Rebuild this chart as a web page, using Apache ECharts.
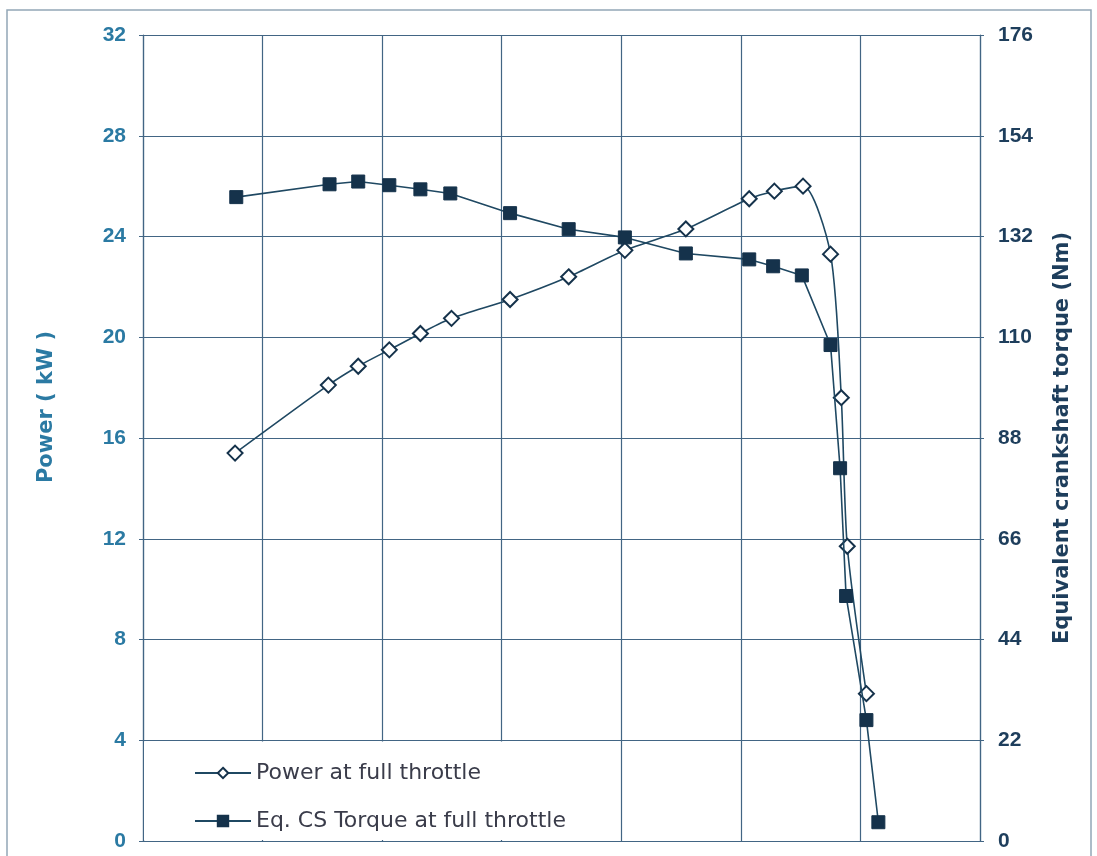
<!DOCTYPE html>
<html>
<head>
<meta charset="utf-8">
<title>Power and torque at full throttle</title>
<script src="https://cdn.jsdelivr.net/npm/echarts@6/dist/echarts.min.js"></script>
<style>
  html, body { margin: 0; padding: 0; background: #ffffff; }
  #chart { width: 1097px; height: 856px; }
</style>
</head>
<body>
<div id="chart"></div>
<script>
// Horizontal positions (unlabelled axis units, one unit per grid column)
const powerX  = [0.77, 1.55, 1.80, 2.06, 2.32, 2.58, 3.07, 3.56, 4.03, 4.54, 5.07, 5.28, 5.52, 5.75, 5.84, 5.89, 6.05];
// Power at full throttle, kW
const powerKW = [15.4, 18.1, 18.85, 19.5, 20.15, 20.75, 21.5, 22.4, 23.45, 24.3, 25.5, 25.8, 26.0, 23.3, 17.6, 11.7, 5.85];

const torqueX  = [0.78, 1.56, 1.80, 2.06, 2.32, 2.57, 3.07, 3.56, 4.03, 4.54, 5.07, 5.27, 5.51, 5.75, 5.83, 5.88, 6.05, 6.15];
// Equivalent crankshaft torque at full throttle, Nm
const torqueNm = [140.6, 143.4, 144.0, 143.2, 142.3, 141.4, 137.1, 133.6, 131.8, 128.3, 127.0, 125.5, 123.5, 108.3, 81.4, 53.5, 26.4, 4.1];

// Axis ranges
const powerAxis  = { min: 0, max: 32, interval: 4 };
const torqueAxis = { min: 0, max: 176, interval: 22 };
const xAxisRange = { min: 0, max: 7, interval: 1 };

const seriesNames = ['Power at full throttle', 'Eq. CS Torque at full throttle'];

const gridColor = '#426584';
const lineColor = '#1f4862';
const markColor = '#15324b';
const tickFont = '"Liberation Sans", Arial, sans-serif';
const textFont = '"DejaVu Sans", Verdana, sans-serif';

const chart = echarts.init(document.getElementById('chart'), null, { renderer: 'canvas' });

chart.setOption({
  backgroundColor: '#ffffff',
  animation: false,
  textStyle: { fontFamily: tickFont },
  grid: { left: 143, right: 117, top: 35, bottom: 15, containLabel: false },
  graphic: [
    {
      type: 'rect', z: 0, silent: true,
      shape: { x: 7, y: 10, width: 1084, height: 900 },
      style: { fill: 'none', stroke: '#93a7b6', lineWidth: 1.5 }
    },
    {
      // white panel behind the legend
      type: 'rect', z: 3, silent: true,
      shape: { x: 144, y: 741.5, width: 470, height: 98.5 },
      style: { fill: '#ffffff' }
    }
  ],
  legend: {
    data: seriesNames,
    orient: 'vertical',
    left: 189,
    top: 757,
    itemGap: 26,
    itemWidth: 56,
    itemHeight: 13,
    z: 5,
    textStyle: { fontSize: 22, color: '#3a3c4a', fontFamily: textFont }
  },
  xAxis: {
    type: 'value',
    min: xAxisRange.min, max: xAxisRange.max, interval: xAxisRange.interval,
    axisLine: { show: true, lineStyle: { color: gridColor, width: 1.2 } },
    axisTick: { show: false },
    axisLabel: { show: false },
    splitLine: { show: true, lineStyle: { color: gridColor, width: 1.2 } }
  },
  yAxis: [
    {
      type: 'value',
      position: 'left',
      min: powerAxis.min, max: powerAxis.max, interval: powerAxis.interval,
      name: 'Power ( kW )',
      nameLocation: 'middle',
      nameGap: 86,
      nameTextStyle: { color: '#2b7aa3', fontSize: 21, fontWeight: 'bold', fontFamily: textFont, padding: [0, 0, 0, 62] },
      axisLine: { show: true, lineStyle: { color: gridColor, width: 1.2 } },
      axisTick: { show: true, length: 4, lineStyle: { color: gridColor } },
      axisLabel: { color: '#2b7aa3', fontSize: 21, fontWeight: 'bold', fontFamily: tickFont, margin: 17 },
      splitLine: { show: true, lineStyle: { color: gridColor, width: 1.2 } }
    },
    {
      type: 'value',
      position: 'right',
      min: torqueAxis.min, max: torqueAxis.max, interval: torqueAxis.interval,
      name: 'Equivalent crankshaft torque (Nm)',
      nameLocation: 'middle',
      nameGap: 72,
      nameTextStyle: { color: '#1e3e5c', fontSize: 21, fontWeight: 'bold', fontFamily: textFont },
      axisLine: { show: true, lineStyle: { color: gridColor, width: 1.2 } },
      axisTick: { show: true, length: 4, lineStyle: { color: gridColor } },
      axisLabel: { color: '#1e3e5c', fontSize: 21, fontWeight: 'bold', fontFamily: tickFont, margin: 18 },
      splitLine: { show: false }
    }
  ],
  series: [
    {
      name: seriesNames[0],
      type: 'line',
      yAxisIndex: 0,
      smooth: 0.25,
      z: 6,
      data: powerX.map((x, i) => [x, powerKW[i]]),
      symbol: 'diamond',
      symbolSize: 15,
      lineStyle: { color: lineColor, width: 1.6 },
      itemStyle: { color: '#ffffff', borderColor: markColor, borderWidth: 2 }
    },
    {
      name: seriesNames[1],
      type: 'line',
      yAxisIndex: 1,
      z: 7,
      data: torqueX.map((x, i) => [x, torqueNm[i]]),
      symbol: 'rect',
      symbolSize: 13,
      lineStyle: { color: lineColor, width: 1.6 },
      itemStyle: { color: markColor, borderColor: markColor, borderWidth: 1 }
    }
  ]
});
</script>
</body>
</html>
